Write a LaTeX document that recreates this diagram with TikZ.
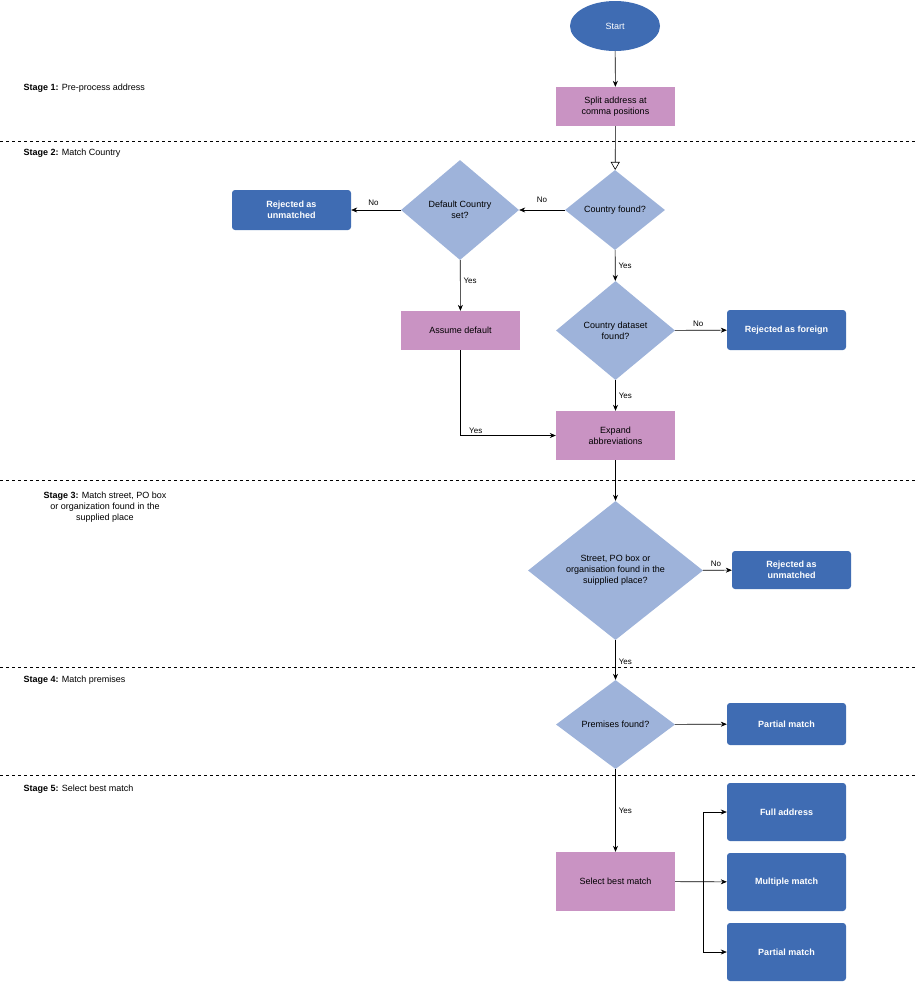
\documentclass[tikz,border=0pt]{standalone}
\usepackage{fontspec}
\setmainfont{Liberation Sans}
\usetikzlibrary{shapes.geometric,arrows.meta}
\definecolor{bblue}{HTML}{3F6CB3}
\definecolor{dblue}{HTML}{9EB3DA}
\definecolor{pinkc}{HTML}{C993C3}
\begin{document}
\begin{tikzpicture}[x=1pt,y=-1pt,
  every node/.style={font=\fontsize{9}{11}\selectfont},
  proc/.style={rectangle,fill=pinkc,minimum width=119pt,align=center,inner sep=2pt},
  term/.style={rectangle,rounded corners=3pt,fill=bblue,text=white,font=\fontsize{9}{11}\selectfont\bfseries,minimum width=119pt,align=center},
  dec/.style={diamond,fill=dblue,inner sep=0pt,align=center},
  arr/.style={-{Stealth[length=6pt,width=5pt]},line width=0.6pt},
  lbl/.style={font=\fontsize{8}{10}\selectfont,inner sep=1pt},
  stage/.style={anchor=west,align=left},
  sep/.style={dashed,line width=0.6pt}]
\useasboundingbox (0,0) rectangle (918,983);
% separators
\draw[sep] (0,141) -- (918,141);
\draw[sep] (0,480) -- (918,480);
\draw[sep] (0,667) -- (918,667);
\draw[sep] (0,775) -- (918,775);
% stage labels
\node[stage] (s1) at (20,88) {\textbf{Stage 1:} Pre-process address};
\node[stage] (s2) at (20,153) {\textbf{Stage 2:} Match Country};
\node[align=center] (s3) at (105,507) {\textbf{Stage 3:} Match street, PO box\\or organization found in the\\supplied place};
\node[stage] (s4) at (20,680) {\textbf{Stage 4:} Match premises};
\node[stage] (s5) at (20,789) {\textbf{Stage 5:} Select best match};
% nodes
\node[ellipse,fill=bblue,text=white,minimum width=90pt,minimum height=50pt] (start) at (615,26) {Start};
\node[proc,minimum height=39pt] (split) at (615.5,106.5) {Split address at\\comma positions};
\node[dec,minimum width=100pt,minimum height=80pt] (cf) at (615,210) {Country found?};
\node[dec,minimum width=118pt,minimum height=100pt] (dc) at (460,210) {Default Country\\set?};
\node[term,minimum height=40pt] (rej1) at (291.5,210) {Rejected as\\unmatched};
\node[proc,minimum height=39pt] (ad) at (460.5,330.5) {Assume default};
\node[dec,minimum width=119pt,minimum height=99pt] (cd) at (615.5,330.5) {Country dataset\\found?};
\node[term,minimum height=40pt] (rejf) at (786.5,330) {Rejected as foreign};
\node[proc,minimum height=49pt] (exp) at (615.5,435.5) {Expand\\abbreviations};
\node[dec,minimum width=175pt,minimum height=139pt] (st) at (615.5,570.5) {Street, PO box or\\organisation found in the\\suipplied place?};
\node[term,minimum height=38pt] (rej2) at (791.5,570) {Rejected as\\unmatched};
\node[dec,minimum width=119pt,minimum height=89pt] (pf) at (615.5,724.5) {Premises found?};
\node[term,minimum height=42pt] (pm1) at (786.5,724) {Partial match};
\node[proc,minimum height=59pt] (sel) at (615.5,881.5) {Select best match};
\node[term,minimum height=58pt] (full) at (786.5,812) {Full address};
\node[term,minimum height=58pt] (mult) at (786.5,882) {Multiple match};
\node[term,minimum height=58pt] (pm2) at (786.5,952) {Partial match};
% edges
\draw[arr] (start) -- (split);
\draw[-{Triangle[open,length=8pt,width=9pt]},line width=0.6pt] (split) -- (cf);
\draw[arr] (cf) -- node[lbl,pos=0.5,above=6pt] (no1) {No} (dc);
\draw[arr] (dc) -- node[lbl,above=3pt,pos=0.55] (no2) {No} (rej1);
\draw[arr] (dc) -- node[lbl,right=2pt,pos=0.4] (y1) {Yes} (ad);
\draw[arr] (cf) -- node[lbl,right=2pt] (y2) {Yes} (cd);
\draw[arr] (cd) -- node[lbl,above=2pt,pos=0.45] (no3) {No} (rejf);
\draw[arr] (cd) -- node[lbl,right=2pt,pos=0.5] (y3) {Yes} (exp);
\draw[arr] (ad) |- node[lbl,above=1pt,pos=0.58] (y4) {Yes} (exp);
\draw[arr] (exp) -- (st);
\draw[arr] (st) -- node[lbl,above=2pt,pos=0.45] (no4) {No} (rej2);
\draw[arr] (st) -- node[lbl,right=2pt,pos=0.55] (y5) {Yes} (pf);
\draw[arr] (pf) -- (pm1);
\draw[arr] (pf) -- node[lbl,right=2pt,pos=0.5] (y6) {Yes} (sel);
\coordinate (br) at (703,881.5);
\draw[arr] (sel) -- (mult);
\draw[arr] (br) |- (full);
\draw[arr] (br) |- (pm2);
\end{tikzpicture}
\end{document}
